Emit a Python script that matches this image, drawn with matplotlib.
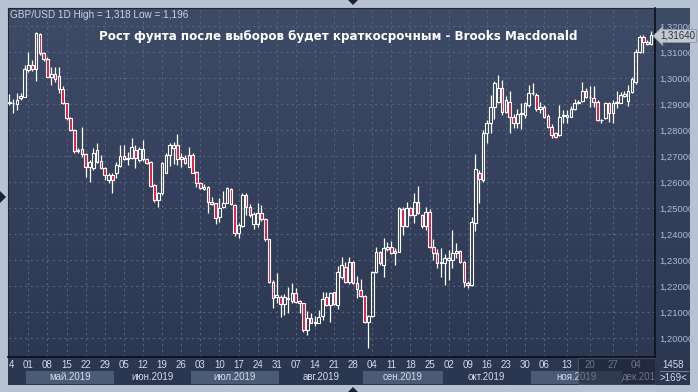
import numpy as np
import matplotlib
matplotlib.use("Agg")
import matplotlib.pyplot as plt
from matplotlib.colors import LinearSegmentedColormap
from matplotlib.patches import Polygon, Rectangle

# GBP/USD, дневные свечи (169 шт.)
opens = [1.2902, 1.2902, 1.2900, 1.2922, 1.2928, 1.3031, 1.3049, 1.3033, 1.3169, 1.3095,
         1.3072, 1.3003, 1.3014, 1.3008, 1.2956, 1.2902, 1.2845, 1.2800, 1.2720, 1.2726,
         1.2706, 1.2659, 1.2653, 1.2678, 1.2681, 1.2653, 1.2608, 1.2627, 1.2633, 1.2663,
         1.2700, 1.2687, 1.2691, 1.2723, 1.2685, 1.2687, 1.2687, 1.2678, 1.2588, 1.2531,
         1.2556, 1.2636, 1.2704, 1.2729, 1.2742, 1.2687, 1.2694, 1.2659, 1.2704, 1.2640,
         1.2597, 1.2572, 1.2582, 1.2524, 1.2518, 1.2467, 1.2502,
         1.2520, 1.2572, 1.2512, 1.2405, 1.2429, 1.2550, 1.2505, 1.2438, 1.2438, 1.2482,
         1.2456, 1.2379, 1.2217, 1.2159, 1.2159, 1.2130, 1.2149, 1.2143, 1.2172, 1.2142,
         1.2133, 1.2031, 1.2076, 1.2057, 1.2059, 1.2085, 1.2159, 1.2127, 1.2175, 1.2127,
         1.2233, 1.2272, 1.2217, 1.2294, 1.2213, 1.2185, 1.2162, 1.2063, 1.2085, 1.2255,
         1.2332, 1.2281, 1.2341, 1.2349, 1.2326, 1.2332, 1.2495, 1.2431, 1.2499, 1.2473,
         1.2524, 1.2473, 1.2431, 1.2486, 1.2351, 1.2326, 1.2290, 1.2290, 1.2300,
         1.2300, 1.2336, 1.2336, 1.2294, 1.2210, 1.2204, 1.2441, 1.2636, 1.2608, 1.2787,
         1.2828, 1.2890, 1.2909, 1.2960, 1.2870, 1.2909, 1.2851, 1.2828, 1.2860, 1.2858,
         1.2896, 1.2941, 1.2934, 1.2879, 1.2887, 1.2854, 1.2813, 1.2787, 1.2781, 1.2854,
         1.2851, 1.2851, 1.2879, 1.2905, 1.2913, 1.2951, 1.2926, 1.2922, 1.2909, 1.2838,
         1.2845, 1.2902, 1.2864, 1.2902, 1.2905, 1.2931, 1.2913, 1.2947, 1.2986, 1.3101,
         1.3156, 1.3140, 1.3131]
highs = [1.2938, 1.2919, 1.2944, 1.2944, 1.3050, 1.3101, 1.3069, 1.3178, 1.3172, 1.3101,
         1.3079, 1.3044, 1.3044, 1.3044, 1.2969, 1.2905, 1.2849, 1.2804, 1.2729, 1.2810,
         1.2713, 1.2685, 1.2732, 1.2751, 1.2704, 1.2659, 1.2636, 1.2633, 1.2678, 1.2742,
         1.2742, 1.2717, 1.2768, 1.2742, 1.2733, 1.2761, 1.2691, 1.2682, 1.2592, 1.2563,
         1.2678, 1.2710, 1.2751, 1.2755, 1.2785, 1.2713, 1.2704, 1.2733, 1.2710, 1.2644,
         1.2601, 1.2592, 1.2585, 1.2544, 1.2521, 1.2537, 1.2567,
         1.2579, 1.2576, 1.2516, 1.2441, 1.2556, 1.2556, 1.2515, 1.2486, 1.2520, 1.2511,
         1.2461, 1.2382, 1.2223, 1.2249, 1.2165, 1.2169, 1.2197, 1.2210, 1.2191, 1.2146,
         1.2136, 1.2105, 1.2095, 1.2085, 1.2108, 1.2178, 1.2178, 1.2178, 1.2178, 1.2277,
         1.2310, 1.2294, 1.2310, 1.2296, 1.2238, 1.2226, 1.2165, 1.2088, 1.2259, 1.2351,
         1.2335, 1.2383, 1.2370, 1.2374, 1.2345, 1.2502, 1.2502, 1.2524, 1.2505, 1.2559,
         1.2585, 1.2477, 1.2502, 1.2495, 1.2379, 1.2341, 1.2345, 1.2323, 1.2338,
         1.2415, 1.2367, 1.2338, 1.2298, 1.2220, 1.2467, 1.2706, 1.2646, 1.2800, 1.2838,
         1.2934, 1.2990, 1.3011, 1.2992, 1.2931, 1.2951, 1.2860, 1.2879, 1.2902, 1.2909,
         1.2973, 1.2979, 1.2941, 1.2909, 1.2896, 1.2861, 1.2823, 1.2794, 1.2896, 1.2877,
         1.2877, 1.2892, 1.2918, 1.2915, 1.2986, 1.2960, 1.2969, 1.2969, 1.2915, 1.2841,
         1.2909, 1.2909, 1.2915, 1.2950, 1.2947, 1.2951, 1.2973, 1.3005, 1.3110, 1.3165,
         1.3165, 1.3146, 1.3182]
lows = [1.2896, 1.2864, 1.2877, 1.2915, 1.2926, 1.3024, 1.3028, 1.2990, 1.3088, 1.3067,
        1.3003, 1.2973, 1.2986, 1.2941, 1.2900, 1.2838, 1.2796, 1.2713, 1.2713, 1.2697,
        1.2620, 1.2601, 1.2646, 1.2674, 1.2650, 1.2608, 1.2595, 1.2559, 1.2614, 1.2659,
        1.2685, 1.2665, 1.2687, 1.2653, 1.2678, 1.2682, 1.2668, 1.2582, 1.2524, 1.2505,
        1.2550, 1.2633, 1.2661, 1.2669, 1.2665, 1.2656, 1.2668, 1.2656, 1.2633, 1.2582,
        1.2572, 1.2569, 1.2479, 1.2512, 1.2438, 1.2447, 1.2499,
        1.2518, 1.2512, 1.2392, 1.2383, 1.2425, 1.2473, 1.2467, 1.2418, 1.2426, 1.2450,
        1.2374, 1.2210, 1.2114, 1.2133, 1.2082, 1.2088, 1.2097, 1.2133, 1.2133, 1.2095,
        1.2024, 1.2012, 1.2056, 1.2046, 1.2056, 1.2069, 1.2124, 1.2063, 1.2127, 1.2110,
        1.2228, 1.2210, 1.2208, 1.2208, 1.2152, 1.2156, 1.2056, 1.1960, 1.2082, 1.2250,
        1.2281, 1.2233, 1.2333, 1.2323, 1.2281, 1.2330, 1.2396, 1.2428, 1.2470, 1.2441,
        1.2477, 1.2422, 1.2415, 1.2345, 1.2300, 1.2268, 1.2236, 1.2204, 1.2223,
        1.2268, 1.2306, 1.2290, 1.2197, 1.2193, 1.2200, 1.2413, 1.2518, 1.2601, 1.2749,
        1.2787, 1.2841, 1.2902, 1.2858, 1.2867, 1.2787, 1.2806, 1.2806, 1.2803, 1.2845,
        1.2890, 1.2934, 1.2874, 1.2864, 1.2847, 1.2806, 1.2768, 1.2768, 1.2777, 1.2826,
        1.2826, 1.2851, 1.2877, 1.2900, 1.2909, 1.2923, 1.2887, 1.2887, 1.2834, 1.2826,
        1.2841, 1.2832, 1.2826, 1.2883, 1.2902, 1.2926, 1.2892, 1.2944, 1.2978, 1.3097,
        1.3097, 1.3128, 1.3128]
closes = [1.2909, 1.2904, 1.2915, 1.2931, 1.3033, 1.3050, 1.3033, 1.3172, 1.3095, 1.3072,
          1.3005, 1.3014, 1.2997, 1.2956, 1.2902, 1.2845, 1.2800, 1.2720, 1.2724, 1.2706,
          1.2659, 1.2678, 1.2713, 1.2723, 1.2653, 1.2627, 1.2627, 1.2608, 1.2665, 1.2700,
          1.2687, 1.2694, 1.2736, 1.2691, 1.2726, 1.2726, 1.2672, 1.2586, 1.2531, 1.2556,
          1.2672, 1.2704, 1.2742, 1.2742, 1.2687, 1.2697, 1.2672, 1.2704, 1.2636, 1.2595,
          1.2576, 1.2582, 1.2524, 1.2514, 1.2463, 1.2499, 1.2521,
          1.2576, 1.2515, 1.2405, 1.2435, 1.2550, 1.2502, 1.2473, 1.2477, 1.2482, 1.2456,
          1.2379, 1.2217, 1.2153, 1.2164, 1.2130, 1.2156, 1.2154, 1.2172, 1.2140, 1.2133,
          1.2031, 1.2076, 1.2059, 1.2063, 1.2082, 1.2149, 1.2127, 1.2172, 1.2131, 1.2255,
          1.2281, 1.2217, 1.2294, 1.2213, 1.2187, 1.2162, 1.2063, 1.2085, 1.2255, 1.2332,
          1.2287, 1.2345, 1.2349, 1.2326, 1.2335, 1.2499, 1.2431, 1.2499, 1.2473, 1.2524,
          1.2479, 1.2431, 1.2486, 1.2351, 1.2328, 1.2290, 1.2292, 1.2306, 1.2306,
          1.2326, 1.2328, 1.2294, 1.2217, 1.2205, 1.2447, 1.2649, 1.2610, 1.2787, 1.2828,
          1.2890, 1.2982, 1.2960, 1.2870, 1.2915, 1.2851, 1.2828, 1.2860, 1.2864, 1.2902,
          1.2941, 1.2944, 1.2879, 1.2890, 1.2851, 1.2813, 1.2781, 1.2772, 1.2851, 1.2857,
          1.2858, 1.2879, 1.2905, 1.2906, 1.2951, 1.2926, 1.2925, 1.2909, 1.2838, 1.2837,
          1.2905, 1.2864, 1.2905, 1.2909, 1.2934, 1.2938, 1.2951, 1.2995, 1.3101, 1.3159,
          1.3140, 1.3131, 1.3164]

price_ticks = [1.20, 1.21, 1.22, 1.23, 1.24, 1.25, 1.26, 1.27, 1.28, 1.29, 1.30, 1.31, 1.32]
week_idx = list(range(5, 141, 5)) + [146, 152, 158, 164]
week_labels = ["01", "08", "15", "22", "29", "05", "12", "19", "26", "03", "10", "17",
               "24", "31", "07", "14", "21", "28", "04", "11", "18", "25", "02", "09",
               "16", "23", "30", "06", "13", "20", "27", "04"]
month_names = ["май.2019", "июн.2019", "июл.2019", "авг.2019", "сен.2019", "окт.2019",
               "ноя.2019", "дек.2019"]
month_start = [5, 28, 48, 71, 93, 114, 137, 161]
last_price = 1.31640

W, H = 698, 392
FRAME = "#b7c3d3"
RED = "#e3173e"

def fx(px):
    return px / W

def fy(py):
    return 1 - py / H

fig = plt.figure(figsize=(W / 100, H / 100), dpi=100, facecolor=FRAME)

# тёмная панель с градиентом
bg = fig.add_axes([fx(8), fy(385), fx(682), 377 / H])
cmap = LinearSegmentedColormap.from_list("bg", ["#2b3650", "#3e4b67"])
bg.imshow(np.linspace(0, 1, 256).reshape(-1, 1)[::-1], aspect="auto", cmap=cmap,
          extent=[0, 1, 0, 1])
bg.set_xlim(0, 1)
bg.set_ylim(0, 1)
bg.axis("off")

o = np.array(opens)
h = np.array(highs)
l = np.array(lows)
c = np.array(closes)
x = np.arange(len(o))
top = np.maximum(o, c)
bot = np.minimum(o, c)
face = ["none" if cc >= oo else RED for oo, cc in zip(o, c)]

ax = fig.add_axes([fx(8), fy(357), fx(647), 349 / H])
ax.set_facecolor("none")
ax.vlines(x, top, h, color="white", lw=0.9, zorder=3)
ax.vlines(x, l, bot, color="white", lw=0.9, zorder=3)
ax.bar(x, top - bot, bottom=bot, width=0.7, color=face, edgecolor="white",
       linewidth=0.8, zorder=4)

ax.set_xlim(-0.34, 169.03)
ax.set_ylim(1.19269, 1.32692)
ax.set_xticks(week_idx)
ax.set_yticks(price_ticks)
ax.set_yticklabels([f"{v:.5f}".replace(".", ",") for v in price_ticks])
ax.yaxis.tick_right()
ax.tick_params(axis="x", length=0, labelbottom=False)
ax.tick_params(axis="y", length=0, pad=3, labelsize=6.8, labelcolor="#a9bbd6")
for lab in ax.get_yticklabels():
    lab.set_family("Liberation Sans")
ax.grid(True, color="#56637f", linestyle=(0, (2, 3)), linewidth=0.8)
ax.set_axisbelow(True)
for side in ["left", "top"]:
    ax.spines[side].set_color("#1f2736")
for side in ["right", "bottom"]:
    ax.spines[side].set_color("#0c1017")
    ax.spines[side].set_linewidth(1.2)

ax.text(0.511, 0.917, "Рост фунта после выборов будет краткосрочным - Brooks Macdonald",
        transform=ax.transAxes, ha="center", va="center", fontsize=8.6, color="white",
        family="DejaVu Sans", fontweight="bold")
fig.text(fx(10), fy(15), "GBP/USD 1D High = 1,318 Low = 1,196", fontsize=7.2,
         color="#c9d3e3", va="center", family="Liberation Sans")

# метка последней цены
fig.text(fx(660), fy(36), f"{last_price:.5f}".replace(".", ","), fontsize=7,
         color="#2a3244", va="center", family="Liberation Sans",
         bbox=dict(boxstyle="larrow,pad=0.15", fc="#c3c8d0", ec="#8c95a6", lw=0.6))

# полоса дат
axd = fig.add_axes([fx(8), fy(385), fx(647), 28 / H])
axd.set_facecolor("none")
axd.set_xlim(ax.get_xlim())
axd.set_ylim(0, 1)
axd.axis("off")
ends = month_start[1:] + [171]
for i, (s, e, name) in enumerate(zip(month_start, ends, month_names)):
    if i % 2 == 0:
        axd.add_patch(Rectangle((s - 0.5, 0.04), e - s, 0.46, fc="#4b5a75", ec="none"))
    axd.text((s + e) / 2 - 0.5, 0.27, name, ha="center", va="center", fontsize=7,
             color="#d2dbea", family="Liberation Sans", clip_on=True)
for xi, lab in zip(week_idx, week_labels):
    axd.text(xi, 0.72, lab, ha="center", va="center", fontsize=7, color="#d2dbea",
             family="Liberation Sans")
axd.text(0.6, 0.72, "4", ha="center", va="center", fontsize=7, color="#d2dbea",
         family="Liberation Sans")
axd.add_patch(Rectangle((148.8, 0.02), 20.2, 0.96, fc="#1a2133", ec="#55617a",
                        lw=0.8, alpha=0.55, zorder=5))

# правый нижний угол
fig.text(fx(673), fy(365), "1458", ha="center", va="center", fontsize=7,
         color="#d2dbea", family="Liberation Sans")
fig.lines.append(plt.Line2D([fx(660), fx(688)], [fy(371), fy(371)], color="#6d7a92",
                            lw=0.8, transform=fig.transFigure))
fig.text(fx(673), fy(378), ">169<", ha="center", va="center", fontsize=7,
         color="#d2dbea", family="Liberation Sans")

# маркеры рамки
for pts in ([(348, 0), (358, 0), (353, 5)], [(348, 392), (358, 392), (353, 387)],
            [(0, 191), (0, 203), (6, 197)]):
    fig.patches.append(Polygon([(fx(a), fy(b)) for a, b in pts], closed=True,
                               fc="#1c2434", ec="none", transform=fig.transFigure))

fig.savefig("out.png", dpi=100, facecolor=FRAME)
